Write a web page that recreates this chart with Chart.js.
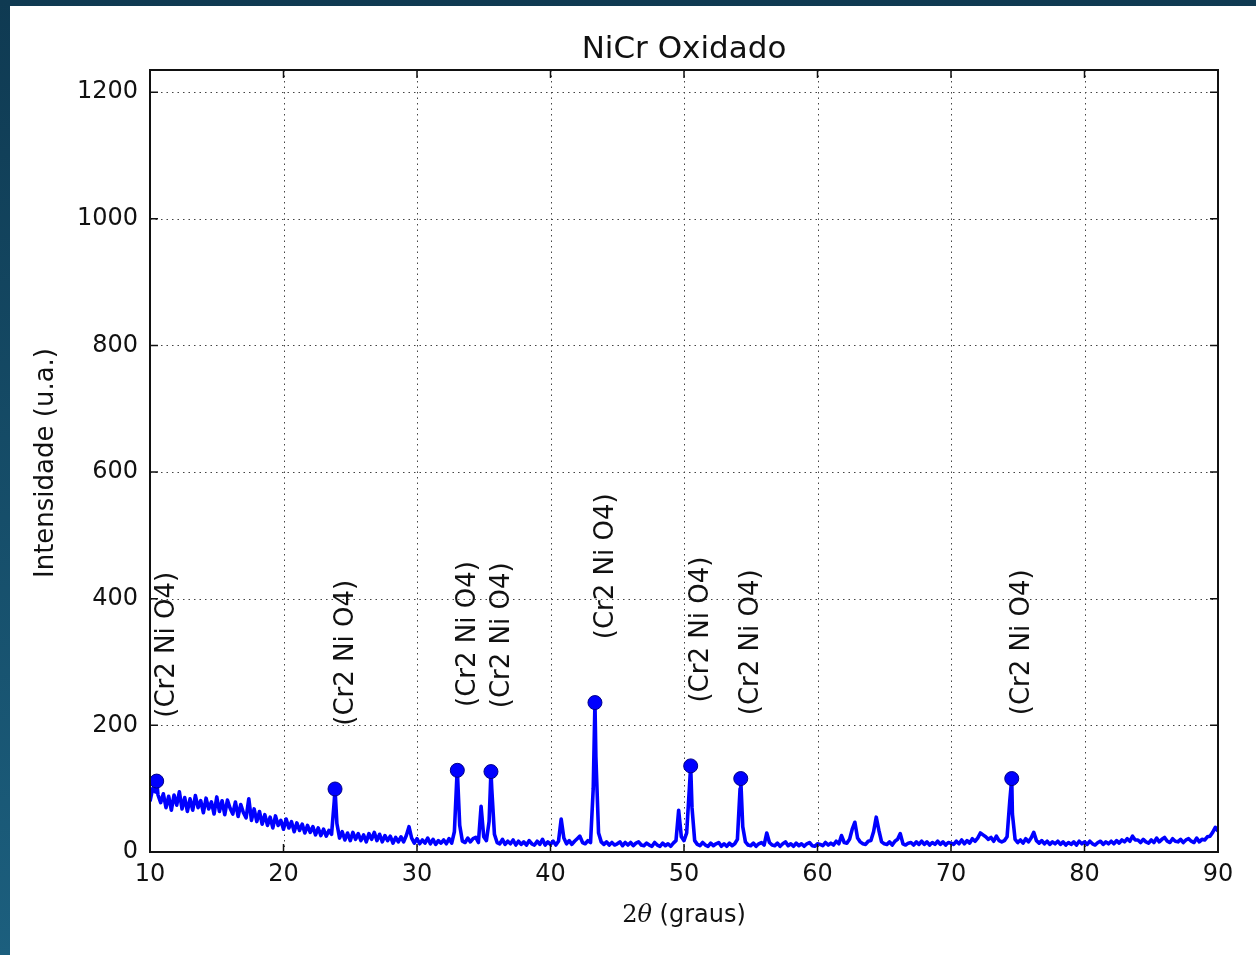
<!DOCTYPE html>
<html>
<head>
<meta charset="utf-8">
<title>NiCr Oxidado</title>
<script src="https://cdn.jsdelivr.net/npm/chart.js@4.4.0/dist/chart.umd.min.js"></script>
<style>
  html, body { margin: 0; padding: 0; background: #12415b; }
  #xrd { display: block; }
</style>
</head>
<body>
<canvas id="xrd" width="1256" height="955"></canvas>
<script>
// Difratograma do NiCr oxidado: intensidade amostrada de 10 a 90 graus, passo de 0.2
const angleStart = 10;
const angleStep = 0.2;
const counts = [
  /*10*/ 80, 100, 95, 90, 78,
  /*11*/ 92, 70, 88, 66, 90,
  /*12*/ 74, 95, 68, 86, 64,
  /*13*/ 84, 66, 89, 70, 81,
  /*14*/ 62, 85, 68, 79, 60,
  /*15*/ 87, 64, 81, 59, 82,
  /*16*/ 69, 60, 79, 56, 75,
  /*17*/ 62, 54, 84, 50, 68,
  /*18*/ 48, 64, 44, 59, 42,
  /*19*/ 55, 38, 57, 42, 50,
  /*20*/ 36, 52, 38, 48, 32,
  /*21*/ 46, 34, 44, 30, 42,
  /*22*/ 31, 40, 27, 38, 26,
  /*23*/ 36, 25, 34, 28, 80,
  /*24*/ 45, 22, 32, 19, 30,
  /*25*/ 18, 31, 20, 29, 18,
  /*26*/ 27, 16, 29, 20, 31,
  /*27*/ 18, 28, 16, 26, 18,
  /*28*/ 25, 14, 23, 16, 24,
  /*29*/ 16, 26, 40, 22, 14,
  /*30*/ 21, 13, 19, 14, 22,
  /*31*/ 13, 20, 12, 18, 14,
  /*32*/ 19, 13, 21, 14, 32,
  /*33*/ 125, 42, 17, 15, 22,
  /*34*/ 16, 21, 23, 15, 72,
  /*35*/ 24, 18, 48, 100, 28,
  /*36*/ 15, 13, 20, 12, 17,
  /*37*/ 13, 19, 11, 17, 12,
  /*38*/ 16, 11, 18, 13, 11,
  /*39*/ 17, 12, 20, 11, 16,
  /*40*/ 12, 17, 11, 17, 52,
  /*41*/ 22, 13, 18, 12, 17,
  /*42*/ 21, 25, 15, 13, 18,
  /*43*/ 15, 100, 150, 30, 16,
  /*44*/ 12, 16, 11, 15, 11,
  /*45*/ 13, 16, 10, 15, 11,
  /*46*/ 15, 10, 14, 16, 11,
  /*47*/ 10, 14, 11, 9, 15,
  /*48*/ 11, 9, 14, 10, 13,
  /*49*/ 9, 14, 18, 66, 24,
  /*50*/ 18, 30, 100, 70, 18,
  /*51*/ 12, 10, 15, 11, 9,
  /*52*/ 14, 10, 13, 15, 9,
  /*53*/ 13, 9, 14, 10, 13,
  /*54*/ 20, 100, 40, 16, 11,
  /*55*/ 10, 14, 9, 13, 15,
  /*56*/ 11, 30, 15, 11, 10,
  /*57*/ 14, 9, 13, 16, 10,
  /*58*/ 13, 9, 14, 10, 13,
  /*59*/ 9, 13, 15, 10, 9,
  /*60*/ 13, 12, 10, 15, 11,
  /*61*/ 14, 11, 17, 13, 26,
  /*62*/ 15, 14, 20, 36, 47,
  /*63*/ 22, 16, 13, 12, 17,
  /*64*/ 18, 32, 55, 34, 16,
  /*65*/ 13, 12, 16, 11, 17,
  /*66*/ 20, 29, 13, 11, 14,
  /*67*/ 15, 11, 16, 12, 17,
  /*68*/ 12, 16, 11, 15, 12,
  /*69*/ 17, 12, 16, 11, 15,
  /*70*/ 14, 12, 17, 13, 19,
  /*71*/ 13, 18, 14, 21, 17,
  /*72*/ 22, 30, 27, 24, 20,
  /*73*/ 23, 17, 25, 18, 16,
  /*74*/ 18, 24, 80, 60, 20,
  /*75*/ 15, 19, 14, 21, 16,
  /*76*/ 22, 31, 18, 14, 18,
  /*77*/ 13, 17, 12, 16, 13,
  /*78*/ 17, 12, 16, 11, 15,
  /*79*/ 12, 16, 11, 17, 13,
  /*80*/ 16, 12, 17, 13, 11,
  /*81*/ 15, 17, 12, 16, 13,
  /*82*/ 17, 13, 18, 14, 19,
  /*83*/ 16, 21, 17, 25, 19,
  /*84*/ 19, 15, 20, 16, 14,
  /*85*/ 19, 15, 22, 16, 20,
  /*86*/ 23, 17, 15, 21, 17,
  /*87*/ 16, 20, 15, 19, 21,
  /*88*/ 17, 15, 22, 16, 20,
  /*89*/ 19, 24, 25, 31, 39,
  /*90*/ 33
];

// picos identificados (topo de cada pico)
const peakAngles = [10.5, 23.86, 33.02, 35.54, 43.33, 50.5, 54.25, 74.55];
const peakCounts = [112, 99.5, 129, 127, 236, 136, 116, 116];
const peakLabel = '(Cr2 Ni O4)';

const xTicks = [10, 20, 30, 40, 50, 60, 70, 80, 90];
const yTicks = [0, 200, 400, 600, 800, 1000, 1200];

// junta a varredura com os topos dos picos, em ordem de angulo
const scanPoints = counts.map((c, i) => ({ x: +(angleStart + i * angleStep).toFixed(2), y: c }));
const peakPoints = peakAngles.map((a, i) => ({ x: a, y: peakCounts[i] }));
const linePoints = scanPoints.concat(peakPoints).sort((a, b) => a.x - b.x);

const SANS = '"DejaVu Sans", sans-serif';

// fundo azul escuro com o quadro branco por cima
const framePlugin = {
  id: 'frame',
  beforeDraw(chart) {
    const { ctx, width, height } = chart;
    const g = ctx.createLinearGradient(0, 0, 0, height);
    g.addColorStop(0, '#0f3a52');
    g.addColorStop(1, '#1c5f7e');
    ctx.save();
    ctx.fillStyle = g;
    ctx.fillRect(0, 0, width, height);
    ctx.fillStyle = '#ffffff';
    ctx.fillRect(10, 6, width - 10, height - 6);
    ctx.restore();
  }
};

// grade pontilhada nas posicoes dos ticks
const gridPlugin = {
  id: 'dottedGrid',
  beforeDatasetsDraw(chart) {
    const { ctx, chartArea: a, scales: { x, y } } = chart;
    ctx.save();
    ctx.strokeStyle = '#444';
    ctx.lineWidth = 1;
    ctx.setLineDash([1.5, 4]);
    ctx.beginPath();
    xTicks.forEach(v => {
      const px = Math.round(x.getPixelForValue(v)) + 0.5;
      ctx.moveTo(px, a.top);
      ctx.lineTo(px, a.bottom);
    });
    yTicks.forEach(v => {
      const py = Math.round(y.getPixelForValue(v)) + 0.5;
      ctx.moveTo(a.left, py);
      ctx.lineTo(a.right, py);
    });
    ctx.stroke();
    ctx.restore();
  }
};

// moldura dos eixos com ticks para dentro nos quatro lados
const axesPlugin = {
  id: 'axesBox',
  afterDatasetsDraw(chart) {
    const { ctx, chartArea: a, scales: { x, y } } = chart;
    const len = 8;
    ctx.save();
    ctx.strokeStyle = '#111';
    ctx.lineWidth = 1.5;
    ctx.beginPath();
    xTicks.forEach(v => {
      const px = x.getPixelForValue(v);
      ctx.moveTo(px, a.bottom); ctx.lineTo(px, a.bottom - len);
      ctx.moveTo(px, a.top); ctx.lineTo(px, a.top + len);
    });
    yTicks.forEach(v => {
      const py = y.getPixelForValue(v);
      ctx.moveTo(a.left, py); ctx.lineTo(a.left + len, py);
      ctx.moveTo(a.right, py); ctx.lineTo(a.right - len, py);
    });
    ctx.stroke();
    ctx.lineWidth = 2;
    ctx.strokeRect(a.left, a.top, a.right - a.left, a.bottom - a.top);
    ctx.restore();
  }
};

// titulo, rotulos dos eixos e identificacao das fases
const textPlugin = {
  id: 'texts',
  afterDraw(chart) {
    const { ctx, chartArea: a, scales: { x, y } } = chart;
    const cx = (a.left + a.right) / 2;
    ctx.save();
    ctx.fillStyle = '#111';

    ctx.font = '31px ' + SANS;
    ctx.textAlign = 'center';
    ctx.textBaseline = 'alphabetic';
    ctx.fillText('NiCr Oxidado', cx, 58);

    // 2θ (graus)
    const partA = '2', partB = '\u03b8', partC = ' (graus)';
    ctx.font = '24px "DejaVu Serif", serif';
    const wA = ctx.measureText(partA).width;
    ctx.font = 'italic 24px "DejaVu Serif", serif';
    const wB = ctx.measureText(partB).width;
    ctx.font = '24px ' + SANS;
    const wC = ctx.measureText(partC).width;
    let sx = cx - (wA + wB + wC) / 2;
    ctx.textAlign = 'left';
    ctx.font = '24px "DejaVu Serif", serif';
    ctx.fillText(partA, sx, 922);
    ctx.font = 'italic 24px "DejaVu Serif", serif';
    ctx.fillText(partB, sx + wA, 922);
    ctx.font = '24px ' + SANS;
    ctx.fillText(partC, sx + wA + wB, 922);

    ctx.save();
    ctx.translate(53, (a.top + a.bottom) / 2 + 2);
    ctx.rotate(-Math.PI / 2);
    ctx.textAlign = 'center';
    ctx.font = '26px ' + SANS;
    ctx.fillText('Intensidade (u.a.)', 0, 0);
    ctx.restore();

    ctx.font = '26px ' + SANS;
    ctx.textAlign = 'left';
    ctx.textBaseline = 'top';
    peakAngles.forEach((ang, i) => {
      ctx.save();
      ctx.translate(x.getPixelForValue(ang) - 2, y.getPixelForValue(peakCounts[i] + 100));
      ctx.rotate(-Math.PI / 2);
      ctx.fillText(peakLabel, 0, 0);
      ctx.restore();
    });
    ctx.restore();
  }
};

new Chart(document.getElementById('xrd'), {
  type: 'line',
  data: {
    datasets: [
      {
        label: 'NiCr oxidado',
        data: linePoints,
        borderColor: '#0000ff',
        borderWidth: 3.6,
        borderJoinStyle: 'round',
        pointRadius: 0,
        tension: 0,
        fill: false,
        order: 2
      },
      {
        type: 'scatter',
        label: 'picos',
        data: peakPoints,
        pointRadius: 7,
        pointBackgroundColor: '#0000ff',
        pointBorderColor: '#000088',
        pointBorderWidth: 1,
        showLine: false,
        order: 1
      }
    ]
  },
  options: {
    responsive: false,
    animation: false,
    layout: { padding: { top: 70, right: 38, left: 0, bottom: 0 } },
    plugins: {
      legend: { display: false },
      tooltip: { enabled: false },
      title: { display: false }
    },
    scales: {
      x: {
        type: 'linear',
        min: 10,
        max: 90,
        afterBuildTicks: s => { s.ticks = xTicks.map(v => ({ value: v })); },
        afterFit: s => { s.height = 103; },
        ticks: {
          color: '#111',
          font: { family: SANS, size: 24 },
          padding: 8,
          maxRotation: 0,
          autoSkip: false,
          callback: v => String(v)
        },
        grid: { display: false, drawTicks: false },
        border: { display: false }
      },
      y: {
        type: 'linear',
        min: 0,
        max: 1235,
        afterBuildTicks: s => { s.ticks = yTicks.map(v => ({ value: v })); },
        afterFit: s => { s.width = 150; },
        ticks: {
          color: '#111',
          font: { family: SANS, size: 24 },
          padding: 12,
          autoSkip: false,
          callback: v => String(v)
        },
        grid: { display: false, drawTicks: false },
        border: { display: false }
      }
    }
  },
  plugins: [framePlugin, gridPlugin, axesPlugin, textPlugin]
});
</script>
</body>
</html>
